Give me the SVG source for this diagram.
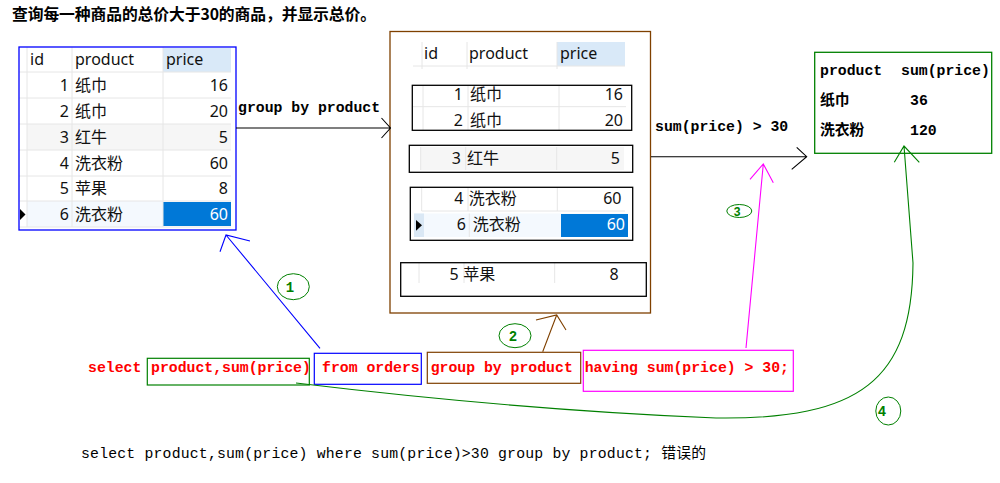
<svg xmlns="http://www.w3.org/2000/svg" width="1000" height="483" viewBox="0 0 1000 483">
<style>
.t{font-family:"Noto Sans","Noto Sans CJK SC",sans-serif;font-size:16px;fill:#111}
.r{text-anchor:end}
.w{fill:#fff}
.m{font-family:"Liberation Mono","Noto Sans CJK SC",monospace;font-size:14.8px;font-weight:bold;fill:#000}
.red{fill:#f00}
.g{stroke:#e6e6e6;stroke-width:1;fill:none}
.hd{fill:#d9e9f8}
.sel{fill:#0078d7}
.box{fill:none;stroke:#000;stroke-width:1.3}
.lbl{font-family:"Liberation Mono",monospace;font-weight:bold;fill:#008000;text-anchor:middle}
</style>
<rect width="1000" height="483" fill="#fff"/>
<text x="12" y="20" font-family="'Noto Sans CJK SC',sans-serif" font-size="15.8" font-weight="bold" fill="#000" textLength="364">查询每一种商品的总价大于30的商品，并显示总价。</text>

<g id="table-orders">
<rect x="19" y="47" width="217" height="183" fill="#fff"/>
<rect x="163" y="48" width="68" height="24" class="hd"/>
<rect x="27" y="124" width="204" height="26" fill="#f6f6f6"/>
<rect x="27" y="201" width="136" height="26" fill="#f4f9fe"/>
<rect x="163" y="202" width="68" height="24" class="sel"/>
<path class="g" d="M27,47V227M72,47V227M163,47V227M19,72H231M19,98H231M19,124H231M19,150H231M19,176H231M19,201H231M19,227H231"/>
<polygon points="20,209 25.5,214.5 20,220" fill="#000"/>
<text class="t" x="30" y="65">id</text><text class="t" x="75" y="65">product</text><text class="t" x="166" y="65">price</text>
<text class="t r" x="69" y="91">1</text><text class="t" x="75" y="91">纸巾</text><text class="t r" x="228" y="91">16</text>
<text class="t r" x="69" y="117">2</text><text class="t" x="75" y="117">纸巾</text><text class="t r" x="228" y="117">20</text>
<text class="t r" x="69" y="143">3</text><text class="t" x="75" y="143">红牛</text><text class="t r" x="228" y="143">5</text>
<text class="t r" x="69" y="169">4</text><text class="t" x="75" y="169">洗衣粉</text><text class="t r" x="228" y="169">60</text>
<text class="t r" x="69" y="194">5</text><text class="t" x="75" y="194">苹果</text><text class="t r" x="228" y="194">8</text>
<text class="t r" x="69" y="220">6</text><text class="t" x="75" y="220">洗衣粉</text><text class="t r w" x="228" y="220">60</text>
<rect x="19" y="47" width="217" height="183" fill="none" stroke="#0000ff" stroke-width="1.3"/>
</g>

<g id="grouped">
<rect x="390" y="31.5" width="260.5" height="281.5" fill="#fff" stroke="#7f4000" stroke-width="1.3"/>
<rect x="557" y="42" width="68" height="24" class="hd"/>
<path class="g" d="M422,42V69M467,42V69M557,42V69M413,66H625"/>
<text class="t" x="424" y="59">id</text><text class="t" x="469" y="59">product</text><text class="t" x="560" y="59">price</text>

<g id="group-zhijin">
<path class="g" d="M423,86V130M468,86V130M559,86V130M413,106.7H626"/>
<text class="t r" x="463" y="100">1</text><text class="t" x="470" y="100">纸巾</text><text class="t r" x="623" y="100">16</text>
<text class="t r" x="463" y="126">2</text><text class="t" x="470" y="126">纸巾</text><text class="t r" x="623" y="126">20</text>
<rect class="box" x="412.3" y="85.3" width="219.4" height="45"/>
</g>

<g id="group-hongniu">
<rect x="420.7" y="147" width="203.3" height="23" fill="#f6f6f6"/>
<path class="g" d="M420.7,147V170M465.7,147V170M556.7,147V170"/>
<text class="t r" x="461" y="163.5">3</text><text class="t" x="467" y="163.5">红牛</text><text class="t r" x="620" y="163.5">5</text>
<rect class="box" x="409.3" y="145.3" width="223.4" height="27"/>
</g>

<g id="group-xiyifen">
<path class="g" d="M421.7,188V211M468,188V211M557.3,188V211M421.7,211H625"/>
<rect x="414" y="213.5" width="214" height="23.5" fill="#f4f9fe"/>
<rect x="414" y="213.5" width="10" height="23.5" fill="#dae8f5"/>
<rect x="561" y="214" width="67" height="23" class="sel"/>
<path class="g" d="M469.3,213.5V237"/>
<polygon points="416,220 422,225.3 416,230.7" fill="#000"/>
<text class="t r" x="463.3" y="203.5">4</text><text class="t" x="468.7" y="203.5">洗衣粉</text><text class="t r" x="621.5" y="203.5">60</text>
<text class="t r" x="466" y="230">6</text><text class="t" x="472.7" y="230">洗衣粉</text><text class="t r w" x="625" y="230">60</text>
<rect class="box" x="410.3" y="187.3" width="222.4" height="53"/>
</g>

<g id="group-pingguo">
<path class="g" d="M419,263V283M464,263V283M554.7,263V283"/>
<text class="t r" x="458.7" y="280">5</text><text class="t" x="463.3" y="280">苹果</text><text class="t r" x="618.7" y="280">8</text>
<rect class="box" x="400.7" y="262.7" width="245.6" height="33.6"/>
</g>
</g>

<g id="result">
<rect x="814.7" y="52.3" width="177" height="101" fill="#fff" stroke="#008000" stroke-width="1.3"/>
<text class="m" x="820" y="75">product</text><text class="m" x="901" y="75">sum(price)</text>
<text class="m" x="820" y="104.5">纸巾</text><text class="m" x="910" y="104.5">36</text>
<text class="m" x="820" y="134.5">洗衣粉</text><text class="m" x="910" y="134.5">120</text>
</g>

<g id="sql">
<text class="m red" x="88" y="372">select</text>
<g id="sql-select"><rect x="147.3" y="358.3" width="162" height="26.7" fill="none" stroke="#008000" stroke-width="1.2"/><text class="m red" x="151" y="372">product,sum(price)</text></g>
<g id="sql-from"><rect x="314.3" y="353.3" width="107" height="31" fill="none" stroke="#0000ff" stroke-width="1.2"/><text class="m red" x="322" y="372">from orders</text></g>
<g id="sql-group"><rect x="427.3" y="352.3" width="153.4" height="31" fill="none" stroke="#7f4000" stroke-width="1.2"/><text class="m red" x="430.7" y="372">group by product</text></g>
<g id="sql-having"><rect x="583.3" y="350.3" width="210" height="41" fill="none" stroke="#ff00ff" stroke-width="1.2"/><text class="m red" x="584.7" y="372">having sum(price) &gt; 30;</text></g>
</g>

<text x="81" y="458" font-family="'Liberation Mono','Noto Sans CJK SC',monospace" font-size="14.8" fill="#000" textLength="625">select product,sum(price) where sum(price)&gt;30 group by product; 错误的</text>

<g id="connectors" fill="none" stroke-width="1.1">
<g stroke="#000">
<path d="M236,128H390.5M381.5,118L390.5,128L381.5,138"/>
<path d="M651,156.7H807M796.7,147.3L806.7,156.7L791.7,169.3"/>
</g>
<text class="m" x="238" y="111.5">group by product</text>
<text class="m" x="655" y="131">sum(price) &gt; 30</text>
<path stroke="#0000ff" d="M320,348.3L226,235M250,241L226,235L220,251.7"/>
<path stroke="#7f4000" d="M542.7,351.7L556.7,315M536,320L556.7,315L566,330"/>
<path stroke="#ff00ff" d="M746,348L763.3,164M750,179.3L763.3,164L773.3,182.7"/>
<path stroke="#008000" d="M296,383Q520,410 716,418C860,420 912,380 913,263L904,146M894.3,162.3L904,146L919.3,162.3"/>
</g>

<g id="labels" fill="none" stroke="#008000" stroke-width="1">
<ellipse cx="293.3" cy="286.7" rx="16" ry="13"/>
<ellipse cx="515" cy="335.7" rx="16" ry="12"/>
<ellipse cx="739.3" cy="211" rx="12.5" ry="6.5"/>
<ellipse cx="888.3" cy="411" rx="12.5" ry="14"/>
</g>
<g id="label-text">
<text class="lbl" x="290" y="291.5" font-size="14">1</text>
<text class="lbl" x="513" y="340.5" font-size="14">2</text>
<text class="lbl" x="737" y="215.5" font-size="12">3</text>
<text class="lbl" x="882" y="416" font-size="14">4</text>
</g>
</svg>
